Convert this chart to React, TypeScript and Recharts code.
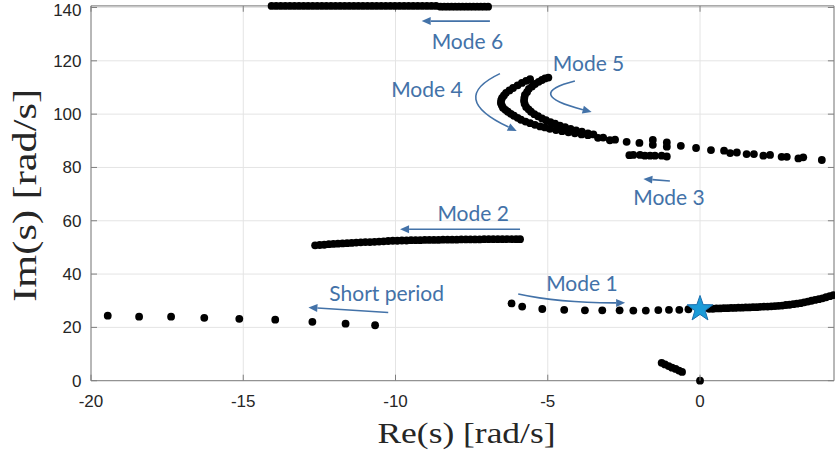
import React from 'react'
import {
  ScatterChart, Scatter, XAxis, YAxis, CartesianGrid, ReferenceLine, ReferenceDot,
} from 'recharts'

type Pt = [number, number]

const xTicks = [-20, -15, -10, -5, 0]
const yTicks = [0, 20, 40, 60, 80, 100, 120, 140]

// root locus branches, [Re, Im]
const shortPeriod: Pt[] = [
  [-19.45, 24.4], [-18.42, 24.0], [-17.37, 24.0], [-16.28, 23.6], [-15.13, 23.2],
  [-13.95, 22.9], [-12.73, 22.1], [-11.64, 21.4], [-10.67, 20.8],
]

const mode1: Pt[] = [
  [-6.19, 29.0], [-5.84, 27.8], [-5.18, 26.9], [-4.46, 26.6], [-3.78, 26.4], [-3.21, 26.4],
  [-2.64, 26.4], [-2.19, 26.3], [-1.78, 26.3], [-1.37, 26.5], [-1.02, 26.6], [-0.68, 26.6],
  [-0.38, 26.8], [0.30, 27.0], [0.42, 27.0], [0.54, 27.1], [0.66, 27.1], [0.78, 27.2],
  [0.90, 27.2], [1.02, 27.3], [1.14, 27.3], [1.26, 27.4], [1.38, 27.4], [1.50, 27.5],
  [1.62, 27.5], [1.74, 27.6], [1.86, 27.6], [1.98, 27.7], [2.10, 27.8], [2.22, 27.8],
  [2.34, 27.9], [2.46, 28.0], [2.58, 28.1], [2.70, 28.2], [2.82, 28.4], [2.94, 28.5],
  [3.06, 28.7], [3.18, 28.9], [3.30, 29.1], [3.42, 29.4], [3.54, 29.7], [3.66, 30.0],
  [3.78, 30.3], [3.90, 30.6], [4.02, 30.9], [4.14, 31.3], [4.26, 31.7], [4.38, 32.1],
]

const mode2: Pt[] = [
  [-12.64, 50.8], [-12.49, 50.9], [-12.34, 51.0], [-12.19, 51.2], [-12.04, 51.3], [-11.89, 51.4],
  [-11.74, 51.5], [-11.59, 51.6], [-11.44, 51.7], [-11.29, 51.8], [-11.14, 51.9], [-10.99, 52.0],
  [-10.84, 52.0], [-10.69, 52.1], [-10.54, 52.2], [-10.39, 52.3], [-10.24, 52.4], [-10.09, 52.5],
  [-9.94, 52.5], [-9.79, 52.6], [-9.64, 52.6], [-9.49, 52.7], [-9.34, 52.7], [-9.19, 52.7],
  [-9.04, 52.8], [-8.89, 52.8], [-8.74, 52.8], [-8.59, 52.8], [-8.44, 52.9], [-8.29, 52.9],
  [-8.14, 52.9], [-7.99, 52.9], [-7.84, 53.0], [-7.69, 53.0], [-7.54, 53.0], [-7.39, 53.0],
  [-7.24, 53.0], [-7.09, 53.1], [-6.94, 53.1], [-6.79, 53.1], [-6.64, 53.1], [-6.49, 53.1],
  [-6.34, 53.1], [-6.19, 53.1], [-6.04, 53.1], [-5.91, 53.1],
]

const mode3: Pt[] = [
  [-2.32, 84.6], [-2.19, 84.7], [-1.97, 84.7], [-1.81, 84.4], [-1.64, 84.4],
  [-1.48, 84.4], [-1.26, 84.4], [-1.09, 84.1],
]

const mode4: Pt[] = [
  [-5.58, 113.1], [-5.71, 112.5], [-5.85, 111.7], [-5.99, 110.8], [-6.14, 109.8], [-6.26, 108.9],
  [-6.37, 108.0], [-6.44, 107.0], [-6.50, 106.1], [-6.53, 105.2], [-6.54, 104.2], [-6.51, 103.3],
  [-6.47, 102.4], [-6.39, 101.6], [-6.31, 100.9], [-6.21, 100.1], [-6.11, 99.4], [-5.99, 98.6],
  [-5.88, 97.9], [-5.73, 97.2], [-5.58, 96.6], [-5.42, 96.0], [-5.25, 95.4], [-5.09, 95.0],
  [-4.93, 94.5], [-4.73, 94.0], [-4.53, 93.6], [-4.32, 93.2], [-4.11, 92.8], [-3.89, 92.4],
  [-3.68, 92.1], [-3.35, 91.1], [-2.96, 90.2], [-1.55, 88.5], [-1.09, 87.8], [0.99, 85.4],
  [1.53, 85.0], [2.08, 84.4], [2.68, 84.0], [3.23, 83.4],
]

const mode5: Pt[] = [
  [-4.98, 113.7], [-5.09, 113.4], [-5.19, 112.8], [-5.30, 112.1], [-5.42, 111.3], [-5.52, 110.4],
  [-5.62, 109.5], [-5.68, 108.3], [-5.75, 107.2], [-5.77, 106.1], [-5.78, 105.0], [-5.76, 103.9],
  [-5.71, 102.7], [-5.63, 101.8], [-5.55, 100.9], [-5.44, 100.0], [-5.32, 99.2], [-5.19, 98.4],
  [-5.06, 97.7], [-4.91, 97.0], [-4.76, 96.4], [-4.60, 95.7], [-4.43, 95.1], [-4.25, 94.5],
  [-4.07, 93.9], [-3.88, 93.4], [-3.68, 92.8], [-3.50, 92.4], [-3.18, 91.2], [-2.79, 90.4],
  [-2.41, 89.6], [-1.99, 89.2], [-1.55, 90.3], [-1.09, 89.4], [-0.63, 88.1], [-0.13, 87.3],
  [0.36, 86.5], [0.79, 86.3], [1.21, 85.6], [1.77, 85.0], [2.30, 84.7], [2.85, 84.0],
  [3.39, 83.8], [4.00, 82.8],
]

const mode6: Pt[] = [
  [-14.07, 140.6], [-13.92, 140.6], [-13.77, 140.6], [-13.62, 140.6], [-13.47, 140.6], [-13.32, 140.6],
  [-13.17, 140.6], [-13.02, 140.6], [-12.87, 140.6], [-12.72, 140.6], [-12.57, 140.6], [-12.42, 140.6],
  [-12.27, 140.6], [-12.12, 140.6], [-11.97, 140.6], [-11.82, 140.6], [-11.67, 140.6], [-11.52, 140.6],
  [-11.37, 140.6], [-11.22, 140.6], [-11.07, 140.6], [-10.92, 140.6], [-10.77, 140.6], [-10.62, 140.6],
  [-10.47, 140.6], [-10.32, 140.6], [-10.17, 140.6], [-10.02, 140.6], [-9.87, 140.6], [-9.72, 140.6],
  [-9.57, 140.6], [-9.42, 140.6], [-9.27, 140.6], [-9.12, 140.6], [-8.97, 140.6], [-8.82, 140.6],
  [-8.67, 140.6], [-8.52, 140.3], [-8.40, 140.3], [-8.28, 140.3], [-8.16, 140.3], [-8.04, 140.3],
  [-7.92, 140.3], [-7.80, 140.3], [-7.68, 140.3], [-7.56, 140.3], [-7.44, 140.3], [-7.32, 140.3],
  [-7.20, 140.3], [-7.08, 140.3], [-6.96, 140.3],
]

const lowBranch: Pt[] = [
  [-1.26, 6.7], [-1.15, 6.1], [-1.03, 5.5], [-0.92, 4.9], [-0.80, 4.4], [-0.69, 3.8], [-0.59, 3.3],
  [0, 0],
]

const openLoopPole: Pt[] = [[0, 26.9]]

// annotation text anchors and arrows, in [Re, Im]
const labels: { text: string; at: Pt }[] = [
  { text: 'Mode 6', at: [-7.64, 124.5] },
  { text: 'Mode 5', at: [-3.66, 116.1] },
  { text: 'Mode 4', at: [-8.97, 106.4] },
  { text: 'Mode 3', at: [-1.02, 65.8] },
  { text: 'Mode 2', at: [-7.45, 59.9] },
  { text: 'Short period', at: [-10.29, 29.9] },
  { text: 'Mode 1', at: [-3.88, 33.7] },
]

const arrows: { from: Pt; to: Pt; via?: Pt }[] = [
  { from: [-6.90, 134.9], to: [-9.14, 134.9] },
  { from: [-4.11, 112.4], to: [-3.56, 100.8], via: [-5.82, 107.5] },
  { from: [-6.57, 115.2], to: [-6.02, 93.7], via: [-8.29, 105.9] },
  { from: [-0.99, 74.9], to: [-1.86, 75.7] },
  { from: [-5.91, 56.8], to: [-9.85, 56.8] },
  { from: [-10.24, 25.6], to: [-12.86, 27.5] },
  { from: [-5.97, 32.5], to: [-2.46, 29.2], via: [-4.60, 29.1] },
]

const X_MAX = 4.4
const Y_MAX = 140.6
const AXIS = '#7f7f7f'
const NOTE = '#4372a8'
const TICK_FONT = '"Liberation Sans", Arial, sans-serif'
const TITLE_FONT = '"Liberation Serif", "Times New Roman", serif'

const toXY = (pts: Pt[]) => pts.map(([x, y]) => ({ x, y }))

const Dot = (p: any) => <circle cx={p.cx} cy={p.cy} r={3.9} fill="#000" />

const Star = (p: any) => {
  const R = 13.5
  const r = R * 0.4
  const pts: string[] = []
  for (let i = 0; i < 10; i++) {
    const a = -Math.PI / 2 + (i * Math.PI) / 5
    const rad = i % 2 === 0 ? R : r
    pts.push(`${p.cx + rad * Math.cos(a)},${p.cy + rad * Math.sin(a)}`)
  }
  return <polygon points={pts.join(' ')} fill="#1b9bd8" stroke="#1d6fae" strokeWidth={1} />
}

const XTick = (p: any) => (
  <g>
    <line x1={p.x} x2={p.x} y1={p.y} y2={p.y - 6} stroke={AXIS} />
    <text x={p.x} y={p.y + 26} textAnchor="middle" fontSize={17} fontFamily={TICK_FONT} fill="#262626">
      {p.payload.value}
    </text>
  </g>
)

// top label is nudged down so it stays inside the frame
const YTick = (p: any) => (
  <g>
    <line x1={p.x} x2={p.x + 6} y1={p.y} y2={p.y} stroke={AXIS} />
    <text x={p.x - 9.5} y={Math.max(p.y, 9.8)} dy={6} textAnchor="end" fontSize={17} fontFamily={TICK_FONT} fill="#262626">
      {p.payload.value}
    </text>
  </g>
)

const XTitle = (p: any) => {
  const vb = p.viewBox
  return (
    <text x={vb.x + vb.width / 2 + 4} y={vb.y + 62} textAnchor="middle" fontSize={30}
      fontFamily={TITLE_FONT} fill="#262626" textLength={178} lengthAdjust="spacingAndGlyphs">
      Re(s) [rad/s]
    </text>
  )
}

const YTitle = (p: any) => {
  const vb = p.viewBox
  const cx = 36
  const cy = vb.y + vb.height / 2 + 2
  return (
    <text x={cx} y={cy} transform={`rotate(-90 ${cx} ${cy})`} textAnchor="middle" fontSize={34}
      fontFamily={TITLE_FONT} fill="#262626" textLength={213} lengthAdjust="spacingAndGlyphs">
      Im(s) [rad/s]
    </text>
  )
}

// arrow between two data points; optional bend point turns it into a quadratic curve
const arrowShape = (a: { from: Pt; to: Pt; via?: Pt }) => (p: any) => {
  const { x1, y1, x2, y2 } = p
  let cx = (x1 + x2) / 2
  let cy = (y1 + y2) / 2
  if (a.via) {
    const sx = (x2 - x1) / (a.to[0] - a.from[0])
    const sy = (y2 - y1) / (a.to[1] - a.from[1])
    cx = x1 + (a.via[0] - a.from[0]) * sx
    cy = y1 + (a.via[1] - a.from[1]) * sy
  }
  let dx = x2 - cx
  let dy = y2 - cy
  const len = Math.hypot(dx, dy) || 1
  dx /= len
  dy /= len
  const head = 9
  const half = 4
  const bx = x2 - dx * head
  const by = y2 - dy * head
  const d = a.via ? `M${x1},${y1} Q${cx},${cy} ${bx},${by}` : `M${x1},${y1} L${bx},${by}`
  return (
    <g>
      <path d={d} fill="none" stroke={NOTE} strokeWidth={1.6} />
      <path d={`M${x2},${y2} L${bx - dy * half},${by + dx * half} L${bx + dy * half},${by - dx * half} Z`} fill={NOTE} />
    </g>
  )
}

const noteText = (text: string) => (p: any) => (
  <text x={p.cx} y={p.cy} textAnchor="middle" fontSize={21} fontFamily="Lato, 'Open Sans', sans-serif" fill={NOTE}>
    {text}
  </text>
)

const branches = [shortPeriod, mode1, mode2, mode3, mode4, mode5, mode6, lowBranch]

export default function App() {
  return (
    <div style={{ position: 'absolute', left: 0, top: 0, background: '#fff' }}>
      <ScatterChart width={835} height={455} margin={{ top: 5.9, right: 1, bottom: 44.3, left: 0 }}>
        <CartesianGrid stroke="#e4e4e4" strokeWidth={1} />
        <XAxis
          type="number" dataKey="x" domain={[-20, X_MAX]} ticks={xTicks} interval={0}
          height={30} tickSize={0} tickMargin={0} tickLine={false}
          axisLine={{ stroke: AXIS }} tick={<XTick />} label={<XTitle />}
        />
        <YAxis
          type="number" dataKey="y" domain={[0, Y_MAX]} ticks={yTicks} interval={0}
          width={91} tickSize={0} tickMargin={0} tickLine={false}
          axisLine={{ stroke: AXIS }} tick={<YTick />} label={<YTitle />}
        />
        <ReferenceLine y={Y_MAX} stroke={AXIS} />
        <ReferenceLine x={X_MAX} stroke={AXIS} />
        {xTicks.map(t => (
          <ReferenceLine key={`tt${t}`} segment={[{ x: t, y: Y_MAX }, { x: t, y: Y_MAX - 2.2 }]} stroke={AXIS} />
        ))}
        {yTicks.map(t => (
          <ReferenceLine key={`rt${t}`} segment={[{ x: X_MAX, y: t }, { x: X_MAX - 0.2, y: t }]} stroke={AXIS} />
        ))}
        {branches.map((b, i) => (
          <Scatter key={i} data={toXY(b)} shape={Dot} isAnimationActive={false} />
        ))}
        <Scatter data={toXY(openLoopPole)} shape={Star} isAnimationActive={false} />
        {arrows.map((a, i) => (
          <ReferenceLine
            key={`ar${i}`}
            segment={[{ x: a.from[0], y: a.from[1] }, { x: a.to[0], y: a.to[1] }]}
            shape={arrowShape(a)}
          />
        ))}
        {labels.map(l => (
          <ReferenceDot key={l.text} x={l.at[0]} y={l.at[1]} r={0} shape={noteText(l.text)} />
        ))}
      </ScatterChart>
    </div>
  )
}
